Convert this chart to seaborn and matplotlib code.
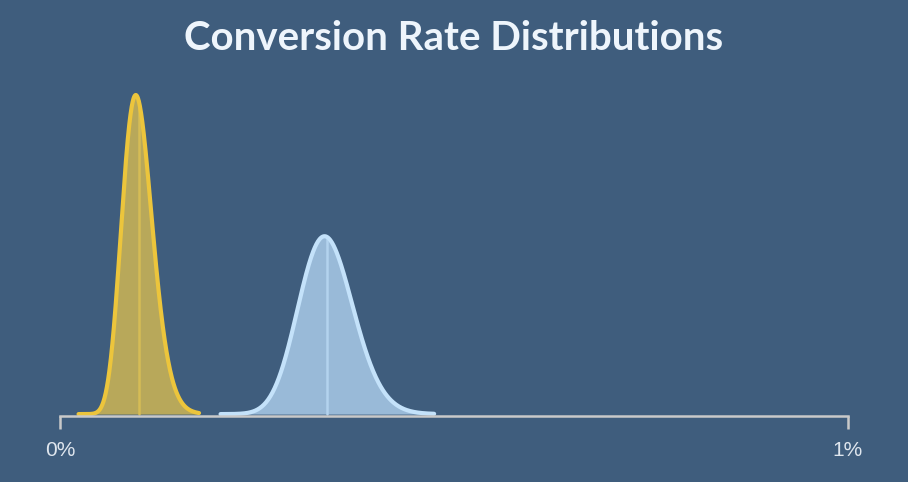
import math
import numpy as np
import pandas as pd
import matplotlib
matplotlib.use("Agg")
import matplotlib.pyplot as plt
import seaborn as sns

# variants: conversions / visitors (Beta posterior)
variants = ["A", "B"]
conversions = [25, 94]
visitors = [26000, 28000]
line_colors = ["#ecc53c", "#c4e2fa"]
fill_colors = ["#b8a85a", "#99bad8"]
mean_colors = ["#d6bc55", "#b3d3ee"]

bg = "#3f5d7d"

sns.set_theme(style="white")
plt.rcParams["font.family"] = ["Liberation Sans", "DejaVu Sans"]


def beta_pdf(x, a, b):
    lognorm = math.lgamma(a + b) - math.lgamma(a) - math.lgamma(b)
    return np.exp(lognorm + (a - 1) * np.log(x) + (b - 1) * np.log1p(-x))


frames = []
for name, c, n in zip(variants, conversions, visitors):
    a, b = c + 1, n - c + 1
    mu = a / (a + b)
    sd = math.sqrt(a * b / ((a + b) ** 2 * (a + b + 1)))
    xs = np.linspace(mu - 3.9 * sd, mu + 3.9 * sd, 400)
    frames.append(pd.DataFrame({"rate": xs, "density": beta_pdf(xs, a, b),
                                "variant": name, "mean": mu}))
df = pd.concat(frames, ignore_index=True)

fig = plt.figure(figsize=(9.08, 4.82), dpi=100, facecolor=bg)
ax = fig.add_axes([60 / 908, 66 / 482, 788 / 908, 336 / 482])
ax.set_facecolor(bg)

for i, name in enumerate(variants):
    d = df[df["variant"] == name]
    ax.fill_between(d["rate"], 0, d["density"], color=fill_colors[i], lw=0, zorder=2)
    sns.lineplot(data=d, x="rate", y="density", color=line_colors[i], lw=3,
                 ax=ax, zorder=4, legend=False)
    mu = d["mean"].iloc[0]
    a, b = conversions[i] + 1, visitors[i] - conversions[i] + 1
    ax.plot([mu, mu], [0, beta_pdf(np.array([mu]), a, b)[0]], color=mean_colors[i],
            lw=1.8, zorder=3)

peak = df["density"].max()
ax.set_xlim(0, 0.01)
ax.set_ylim(-peak * 0.006, peak / 0.955)

for s in ["top", "right", "left"]:
    ax.spines[s].set_visible(False)
ax.spines["bottom"].set_color("#c9c9c9")
ax.spines["bottom"].set_linewidth(1.8)
ax.spines["bottom"].set_zorder(5)

ax.set_xticks([0, 0.01])
ax.set_xticklabels(["0%", "1%"], family=["Liberation Sans", "DejaVu Sans"])
ax.set_yticks([])
ax.tick_params(axis="x", length=9, width=1.8, color="#c9c9c9", labelcolor="#dfe6ee",
               labelsize=15, pad=9, direction="out", bottom=True)
ax.set_xlabel("")
ax.set_ylabel("")

fig.text(0.5, 1 - 38 / 482, "Conversion Rate Distributions", ha="center", va="center",
         fontsize=29, fontweight="bold", color="#eef5fc", family=["Lato", "DejaVu Sans"])

fig.savefig("out.png", dpi=100, facecolor=bg)
